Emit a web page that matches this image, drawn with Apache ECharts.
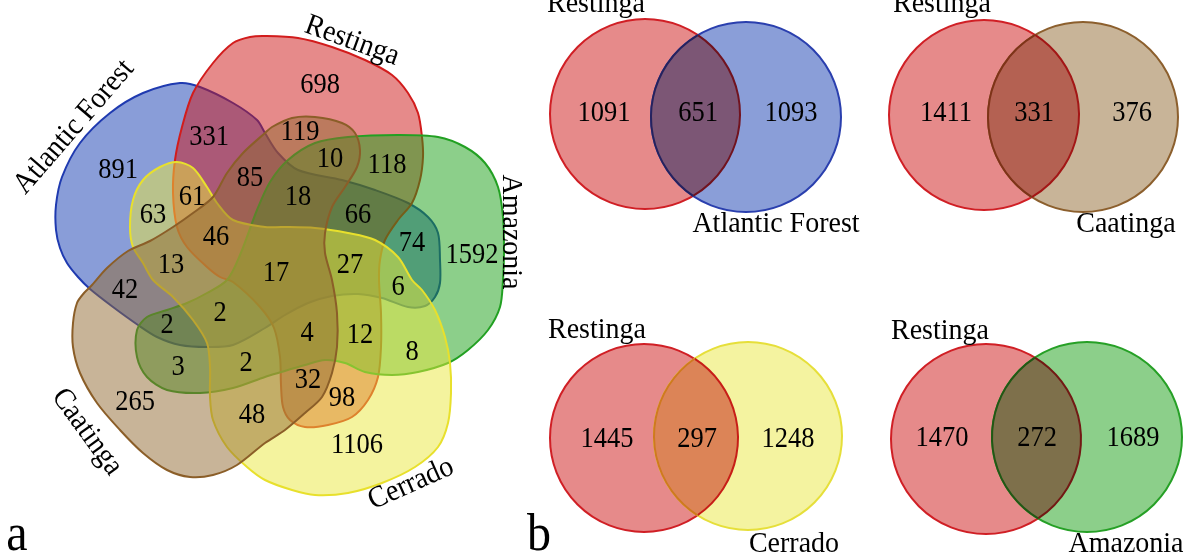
<!DOCTYPE html>
<html><head><meta charset="utf-8">
<script src="https://cdn.jsdelivr.net/npm/echarts@6/dist/echarts.min.js"></script>
<style>html,body{margin:0;padding:0;background:#fff}#c{width:1190px;height:559px}</style>
</head><body><div id="c"></div>
<script>
// ---------------- DATA ----------------
const setNames = ['Atlantic Forest', 'Restinga', 'Amazonia', 'Cerrado', 'Caatinga'];
const fiveCounts = [891, 698, 1592, 1106, 265, 331, 119, 10, 118, 61, 63, 85, 18, 66, 74,
                    46, 13, 17, 27, 6, 42, 2, 2, 4, 12, 8, 3, 2, 32, 98, 48];
const pairBaseName = 'Restinga';
const pairOtherNames = ['Atlantic Forest', 'Caatinga', 'Cerrado', 'Amazonia'];
const pairOnlyBase = [1091, 1411, 1445, 1470];
const pairShared = [651, 331, 297, 272];
const pairOnlyOther = [1093, 376, 1248, 1689];
const panelLetters = ['a', 'b'];

// ---------------- LAYOUT (pixel-space axis units) ----------------
const shapeOutlines = [
  // Atlantic Forest (blue)
  [[180,83],[200,87],[233,103],[257,120],[265,133],[278,153],[298,170],[342,180],[375,190],[408,203],[428,217],[438,233],[440,260],[440,283],[435,297],[425,306],[408,307],[382,298],[358,294],[332,296],[308,303],[285,315],[265,328],[233,345],[207,347],[180,345],[157,337],[138,325],[113,307],[90,289],[78,277],[67,263],[60,248],[56,230],[56,205],[62,177],[80,143],[110,113],[143,93]],
  // Restinga (red)
  [[233,43],[250,37],[265,36],[298,38],[332,47],[365,60],[392,75],[408,93],[418,113],[422,137],[423,157],[420,180],[412,203],[398,220],[385,240],[380,260],[379,280],[381,313],[381,347],[378,377],[368,400],[352,417],[328,425],[305,427],[290,420],[283,407],[281,385],[280,357],[274,328],[260,307],[233,282],[220,277],[207,267],[187,247],[177,227],[173,193],[175,160],[182,127],[193,93],[213,63]],
  // Amazonia (green)
  [[288,160],[315,143],[348,137],[398,135],[438,137],[465,147],[485,163],[498,187],[503,217],[504,253],[503,280],[500,307],[488,330],[468,350],[448,363],[418,372],[392,375],[365,372],[345,363],[325,360],[305,365],[278,373],[265,377],[233,388],[200,393],[167,390],[147,377],[137,357],[137,330],[147,317],[167,310],[187,303],[207,293],[227,280],[240,255],[257,210],[270,182]],
  // Cerrado (yellow)
  [[177,162],[193,168],[207,187],[217,203],[233,220],[265,227],[282,227],[315,228],[348,233],[375,240],[398,257],[412,280],[422,290],[435,310],[445,337],[450,363],[451,393],[448,423],[438,447],[415,467],[382,483],[348,493],[315,495],[292,490],[265,480],[247,467],[227,447],[213,420],[210,397],[210,367],[207,343],[193,320],[173,297],[153,280],[143,263],[133,247],[130,227],[133,200],[143,180],[160,167]],
  // Caatinga (brown)
  [[272,127],[292,118],[315,117],[342,123],[355,133],[360,150],[357,167],[345,187],[332,207],[325,233],[325,253],[332,280],[337,313],[337,347],[332,373],[322,397],[305,413],[285,430],[265,443],[237,465],[213,475],[190,477],[167,470],[143,453],[120,430],[97,403],[80,373],[73,347],[73,323],[77,303],[84,293],[92,285],[107,268],[128,251],[150,241],[173,227],[193,213],[213,197],[227,173],[243,153],[265,133]]
];
const fiveFill = ['rgba(19,59,177,0.5)','rgba(205,21,21,0.5)','rgba(25,159,21,0.5)','rgba(233,231,61,0.5)','rgba(145,105,49,0.5)'];
const fiveStroke = ['#1f3ab0','#d21c1c','#22a022','#e8e02c','#8b5e28'];
const fiveCountPos = [[118,170],[320,85],[472,255],[357,445],[135,402],[209,137],[300,132],[330,159],[387,165],[192,197],[153,215],[250,178],[298,197],[358,215],[412,243],[216,237],[171,265],[276,273],[350,265],[398,287],[125,290],[167,325],[220,313],[307,333],[360,335],[412,352],[178,367],[246,363],[308,380],[342,398],[252,415]];
const fiveNamePos = [[74,127,49],[352,41,-20],[511,232,-90],[411,484,24],[87,432,-54]];

// pairwise panels: [cxBase, cyBase, cxOther, cyOther, r]
const pairCircles = [[645,114,746,117,95],[984,115,1083,117,95],[644,438,748,436,94],[986,439,1087,437,95]];
const pairNumPos = [[[604,113],[698,113],[791,113]],[[946,113],[1034,113],[1132,113]],[[607,439],[697,439],[788,439]],[[942,438],[1037,438],[1133,438]]];
const pairBaseNamePos = [[596,4],[942,4],[597,330],[940,331]];
const pairOtherNamePos = [[776,224],[1126,224],[794,544],[1126,544]];
const pairOtherIdx = [0, 4, 3, 2]; // colour index by set
const circFill = [[138,158,216],[230,138,138],[140,207,138],[244,243,160],[200,180,152]];
const circStroke = [[42,63,174],[208,31,37],[38,160,38],[230,223,58],[140,95,45]];
const panelLetterPos = [[17,536],[539,536]];

// ---------------- BUILD ----------------
const FONT = '"Liberation Serif", "Times New Roman", serif';
const NUM_SIZE = 26.5, NAME_SIZE = 28, LETTER_SIZE = 48, TEXT_STRETCH = 1.08;
const chart = echarts.init(document.getElementById('c'), null, {renderer: 'canvas'});

function rgb(c) { return 'rgb(' + c.map(Math.round).join(',') + ')'; }
function mul(a, b) { return a.map((v, i) => v * b[i] / 255); }

const textItems = [];
fiveCounts.forEach((v, i) => textItems.push({value: [fiveCountPos[i][0], fiveCountPos[i][1]], t: String(v), s: NUM_SIZE, r: 0}));
setNames.forEach((n, i) => textItems.push({value: [fiveNamePos[i][0], fiveNamePos[i][1]], t: n, s: NAME_SIZE, r: fiveNamePos[i][2]}));
pairOtherNames.forEach((n, k) => {
  const vals = [pairOnlyBase[k], pairShared[k], pairOnlyOther[k]];
  vals.forEach((v, j) => textItems.push({value: pairNumPos[k][j], t: String(v), s: NUM_SIZE, r: 0}));
  textItems.push({value: pairBaseNamePos[k], t: pairBaseName, s: NAME_SIZE, r: 0});
  textItems.push({value: pairOtherNamePos[k], t: n, s: NAME_SIZE, r: 0});
});
panelLetters.forEach((l, i) => textItems.push({value: panelLetterPos[i], t: l, s: LETTER_SIZE, r: 0}));

const option = {
  backgroundColor: '#ffffff',
  animation: false,
  grid: {left: 0, right: 0, top: 0, bottom: 0, containLabel: false},
  xAxis: {type: 'value', min: 0, max: 1190, show: false},
  yAxis: {type: 'value', min: 0, max: 559, inverse: true, show: false},
  series: [
    {
      type: 'custom', clip: false, z: 1,
      data: setNames.map((n, i) => ({name: n, value: [i, 0]})),
      renderItem: function (params, api) {
        const i = params.dataIndex;
        const pts = shapeOutlines[i].map(p => api.coord(p));
        return {type: 'polygon', shape: {points: pts, smooth: 0.3},
          style: {fill: fiveFill[i], stroke: fiveStroke[i], lineWidth: 2}};
      }
    },
    {
      type: 'custom', clip: false, z: 2,
      data: pairOtherNames.map((n, k) => ({name: n, value: [k, 0]})),
      renderItem: function (params, api) {
        const k = params.dataIndex;
        const c = pairCircles[k];
        const p1 = api.coord([c[0], c[1]]), p2 = api.coord([c[2], c[3]]);
        const r = api.size([c[4], 0])[0];
        const a = 1, b = pairOtherIdx[k];
        const dx = p2[0] - p1[0], dy = p2[1] - p1[1];
        const d = Math.sqrt(dx * dx + dy * dy);
        const h = Math.sqrt(r * r - d * d / 4);
        const mx = (p1[0] + p2[0]) / 2, my = (p1[1] + p2[1]) / 2;
        const ux = -dy / d, uy = dx / d;
        const P = [mx - ux * h, my - uy * h];
        const Q = [mx + ux * h, my + uy * h];
        const top = P[1] < Q[1] ? P : Q, bot = P[1] < Q[1] ? Q : P;
        const lens = 'M' + top[0] + ' ' + top[1] + ' A' + r + ' ' + r + ' 0 0 1 ' + bot[0] + ' ' + bot[1] +
                     ' A' + r + ' ' + r + ' 0 0 1 ' + top[0] + ' ' + top[1] + ' Z';
        const arcBase = 'M' + top[0] + ' ' + top[1] + ' A' + r + ' ' + r + ' 0 0 1 ' + bot[0] + ' ' + bot[1];
        const arcOther = 'M' + bot[0] + ' ' + bot[1] + ' A' + r + ' ' + r + ' 0 0 1 ' + top[0] + ' ' + top[1];
        return {type: 'group', children: [
          {type: 'circle', shape: {cx: p1[0], cy: p1[1], r: r}, style: {fill: rgb(circFill[a]), stroke: rgb(circStroke[a]), lineWidth: 2}},
          {type: 'circle', shape: {cx: p2[0], cy: p2[1], r: r}, style: {fill: rgb(circFill[b]), stroke: rgb(circStroke[b]), lineWidth: 2}},
          {type: 'path', shape: {pathData: lens}, style: {fill: rgb(mul(circFill[a], circFill[b])), stroke: null}},
          {type: 'path', shape: {pathData: arcBase}, style: {fill: null, stroke: rgb(mul(circStroke[a], circFill[b])), lineWidth: 2}},
          {type: 'path', shape: {pathData: arcOther}, style: {fill: null, stroke: rgb(mul(circStroke[b], circFill[a])), lineWidth: 2}}
        ]};
      }
    },
    {
      type: 'custom', clip: false, z: 5,
      data: textItems.map(d => ({value: d.value})),
      renderItem: function (params, api) {
        const d = textItems[params.dataIndex];
        const c = api.coord([api.value(0), api.value(1)]);
        return {type: 'text', x: c[0], y: c[1], rotation: d.r * Math.PI / 180,
          scaleX: 1, scaleY: TEXT_STRETCH,
          style: {text: d.t, fontSize: d.s, fontFamily: FONT, fill: '#000',
                  align: 'center', verticalAlign: 'middle'}};
      }
    }
  ]
};
chart.setOption(option);
</script>
</body></html>
